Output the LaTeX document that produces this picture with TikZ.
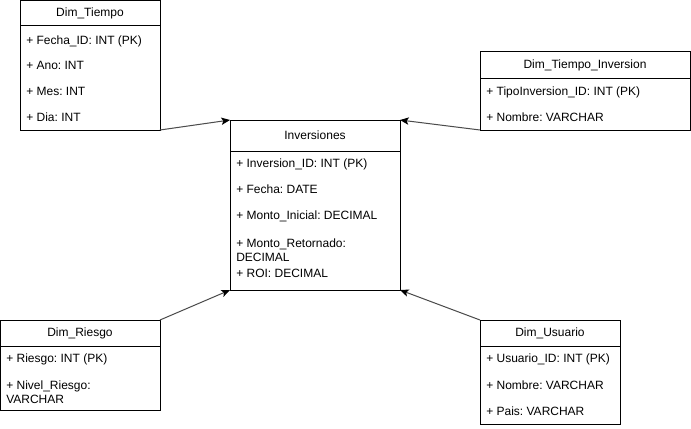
\documentclass[tikz,border=0pt]{standalone}
\usepackage{fontspec}
\setmainfont{Liberation Sans}
\usetikzlibrary{arrows.meta,positioning}
\frenchspacing

\begin{document}
\begin{tikzpicture}[
    x=0.75pt, y=-0.75pt,
    font=\fontsize{9pt}{10.5pt}\selectfont,
    hdr/.style={rectangle, draw, line width=0.75pt, outer sep=0pt, inner sep=0pt, align=center},
    body/.style={rectangle, draw, line width=0.75pt, outer sep=0pt, inner sep=0pt},
    row/.style={anchor=base west, inner sep=0pt, align=left},
    arrow/.style={draw=black!70, line width=0.75pt, -{Stealth[length=6.5pt,width=5.5pt,inset=1.5pt,color=black]}}
]
\useasboundingbox (0,0) rectangle (691,428);

% Dim_Tiempo
\node[hdr, minimum width=105pt, minimum height=18.75pt] (tiempo) at (90,13.5) {Dim\_Tiempo};
\node[body, minimum width=105pt, minimum height=78pt, below=0pt of tiempo] (tiempo_b) {};
\node[row] (tiempo_1) at (26,44.3) {+ Fecha\_ID: INT (PK)};
\node[row] (tiempo_2) at (26,69.3) {+ Ano: INT};
\node[row] (tiempo_3) at (26,95.3) {+ Mes: INT};
\node[row] (tiempo_4) at (26,121.3) {+ Dia: INT};

% Dim_Tiempo_Inversion
\node[hdr, minimum width=157.5pt, minimum height=19.5pt] (tinv) at (585,65) {Dim\_Tiempo\_Inversion};
\node[body, minimum width=157.5pt, minimum height=39pt, below=0pt of tinv] (tinv_b) {};
\node[row] (tinv_1) at (486,95.3) {+ TipoInversion\_ID: INT (PK)};
\node[row] (tinv_2) at (486,121.3) {+ Nombre: VARCHAR};

% Inversiones
\node[hdr, minimum width=127.5pt, minimum height=23.25pt] (inv) at (315,135.5) {Inversiones};
\node[body, minimum width=127.5pt, minimum height=104.25pt, below=0pt of inv] (inv_b) {};
\node[row] (inv_1) at (236,167.3) {+ Inversion\_ID: INT (PK)};
\node[row] (inv_2) at (236,193.3) {+ Fecha: DATE};
\node[row] (inv_3) at (236,219.3) {+ Monto\_Inicial: DECIMAL};
\node[row] (inv_4) at (236,261.3) {+ Monto\_Retornado:\\DECIMAL};
\node[row] (inv_5) at (236,277.3) {+ ROI: DECIMAL};

% Dim_Riesgo
\node[hdr, minimum width=120pt, minimum height=19.5pt] (riesgo) at (80,333) {Dim\_Riesgo};
\node[body, minimum width=120pt, minimum height=48pt, below=0pt of riesgo] (riesgo_b) {};
\node[row] (riesgo_1) at (6,362.3) {+ Riesgo: INT (PK)};
\node[row] (riesgo_2) at (6,403.3) {+ Nivel\_Riesgo:\\VARCHAR};

% Dim_Usuario
\node[hdr, minimum width=105pt, minimum height=19.5pt] (usuario) at (550,333) {Dim\_Usuario};
\node[body, minimum width=105pt, minimum height=58.5pt, below=0pt of usuario] (usuario_b) {};
\node[row] (usuario_1) at (486,362.3) {+ Usuario\_ID: INT (PK)};
\node[row] (usuario_2) at (486,389.3) {+ Nombre: VARCHAR};
\node[row] (usuario_3) at (486,415.3) {+ Pais: VARCHAR};

% Arrows
\draw[arrow] (tiempo_b.south east) -- (inv.north west);
\draw[arrow] (tinv_b.south west) -- (inv.north east);
\draw[arrow] (riesgo.north east) -- (inv_b.south west);
\draw[arrow] (usuario.north west) -- (inv_b.south east);

\end{tikzpicture}
\end{document}
